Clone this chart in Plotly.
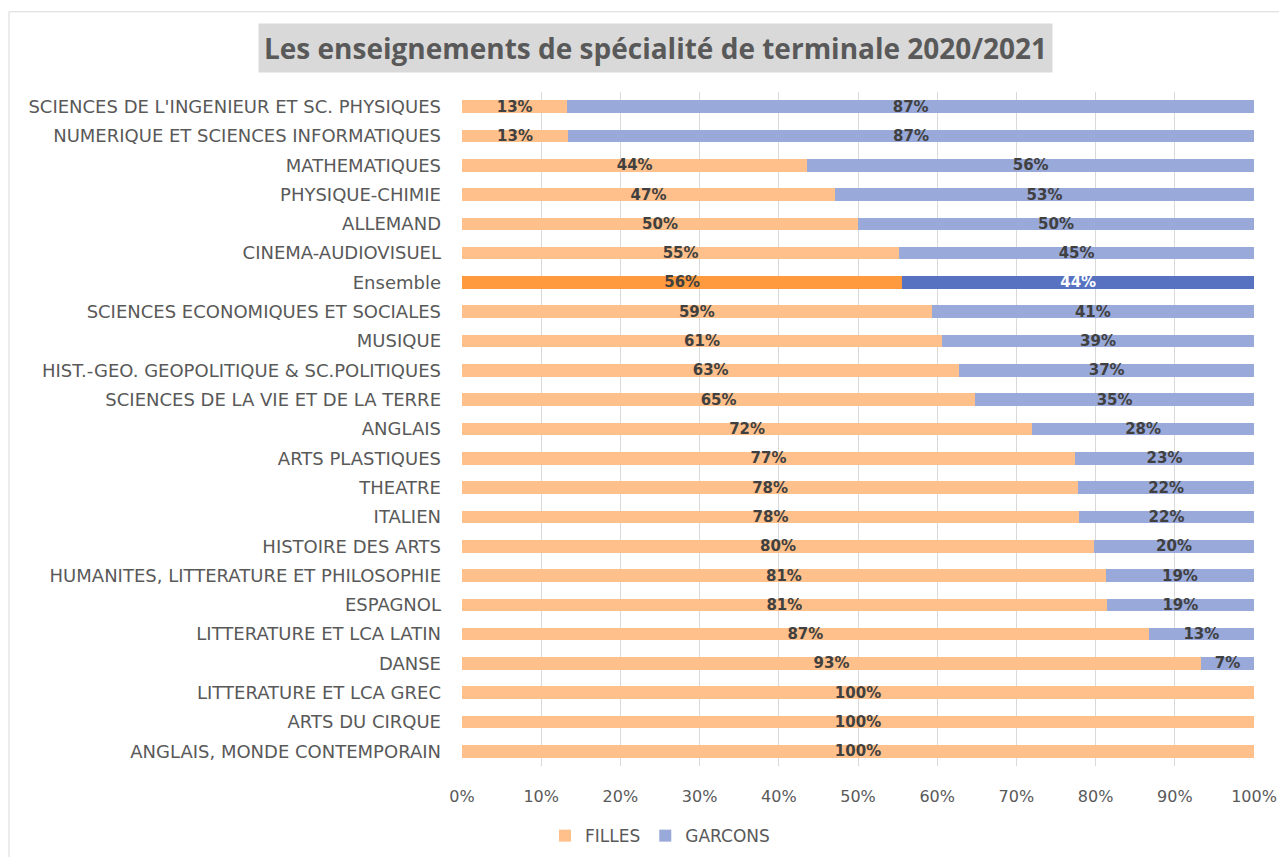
import plotly.graph_objects as go

categories = [
    "SCIENCES DE L'INGENIEUR ET SC. PHYSIQUES",
    "NUMERIQUE ET SCIENCES INFORMATIQUES",
    "MATHEMATIQUES",
    "PHYSIQUE-CHIMIE",
    "ALLEMAND",
    "CINEMA-AUDIOVISUEL",
    "Ensemble",
    "SCIENCES ECONOMIQUES ET SOCIALES",
    "MUSIQUE",
    "HIST.-GEO. GEOPOLITIQUE & SC.POLITIQUES",
    "SCIENCES DE LA VIE ET DE LA TERRE",
    "ANGLAIS",
    "ARTS PLASTIQUES",
    "THEATRE",
    "ITALIEN",
    "HISTOIRE DES ARTS",
    "HUMANITES, LITTERATURE ET PHILOSOPHIE",
    "ESPAGNOL",
    "LITTERATURE ET LCA LATIN",
    "DANSE",
    "LITTERATURE ET LCA GREC",
    "ARTS DU CIRQUE",
    "ANGLAIS, MONDE CONTEMPORAIN",
]

filles = [0.133, 0.134, 0.436, 0.471, 0.500, 0.552, 0.556, 0.593, 0.606, 0.628,
          0.648, 0.720, 0.774, 0.778, 0.779, 0.798, 0.813, 0.814, 0.867, 0.933,
          1.0, 1.0, 1.0]
garcons = [0.867, 0.866, 0.564, 0.529, 0.500, 0.448, 0.444, 0.407, 0.394, 0.372,
           0.352, 0.280, 0.226, 0.222, 0.221, 0.202, 0.187, 0.186, 0.133, 0.067,
           0.0, 0.0, 0.0]

ORANGE, ORANGE_DARK = "#FFC08B", "#FF9B3E"
BLUE, BLUE_DARK = "#99A9D9", "#5672C1"
TXT = "#404040"
FONT = "DejaVu Sans"

def label(v):
    return f"{round(v * 100):.0f}%" if v > 0 else ""

f_colors = [ORANGE_DARK if c == "Ensemble" else ORANGE for c in categories]
g_colors = [BLUE_DARK if c == "Ensemble" else BLUE for c in categories]
g_txt = ["white" if c == "Ensemble" else TXT for c in categories]

fig = go.Figure()
fig.add_trace(go.Bar(
    y=categories, x=filles, name="FILLES", orientation="h",
    marker=dict(color=f_colors, line=dict(width=0)),
    text=[label(v) for v in filles], textposition="inside",
    insidetextanchor="middle", constraintext="none",
    textfont=dict(family=FONT, size=15, color=TXT, weight="bold"),
    hoverinfo="x+y",
))
fig.add_trace(go.Bar(
    y=categories, x=garcons, name="GARCONS", orientation="h",
    marker=dict(color=g_colors, line=dict(width=0)),
    text=[label(v) for v in garcons], textposition="inside",
    insidetextanchor="middle", constraintext="none",
    textfont=dict(family=FONT, size=15, color=g_txt, weight="bold"),
    hoverinfo="x+y",
))

# the page body adds an 8px margin, so the figure is 8px smaller and shifted
fig.update_layout(
    barmode="stack",
    bargap=0.57,
    width=1279, height=849,
    margin=dict(l=454, r=33, t=84, b=91, autoexpand=False),
    paper_bgcolor="white", plot_bgcolor="white",
    font=dict(family=FONT, color="#595959", size=17),
    showlegend=True,
    legend=dict(orientation="h", x=0.25, xanchor="center", y=-0.104, yanchor="middle",
                font=dict(size=17, color="#595959"), traceorder="normal"),
    xaxis=dict(range=[0, 1], tickformat=".0%", dtick=0.1, showgrid=True,
               gridcolor="#d9d9d9", gridwidth=1, zeroline=False, ticks="",
               ticklabelstandoff=19, tickfont=dict(size=16, color="#595959"),
               fixedrange=True),
    yaxis=dict(autorange="reversed", showgrid=False, ticks="",
               ticklabelstandoff=20, tickfont=dict(size=18, color="#595959")),
    annotations=[dict(
        text="<b>Les enseignements de spécialité de terminale 2020/2021</b>",
        xref="paper", yref="paper", x=0.2437, y=1.066, xanchor="center", yanchor="middle",
        showarrow=False, bgcolor="#d9d9d9", borderpad=5,
        font=dict(size=28, color="#595959", family="Open Sans"),
    )],
    shapes=[dict(type="rect", xref="paper", yref="paper",
                 x0=-0.572, x1=1.039, y0=-0.15, y1=1.119,
                 line=dict(color="#d9d9d9", width=1), fillcolor="rgba(0,0,0,0)",
                 layer="below")],
)

fig.write_html("out.html")
